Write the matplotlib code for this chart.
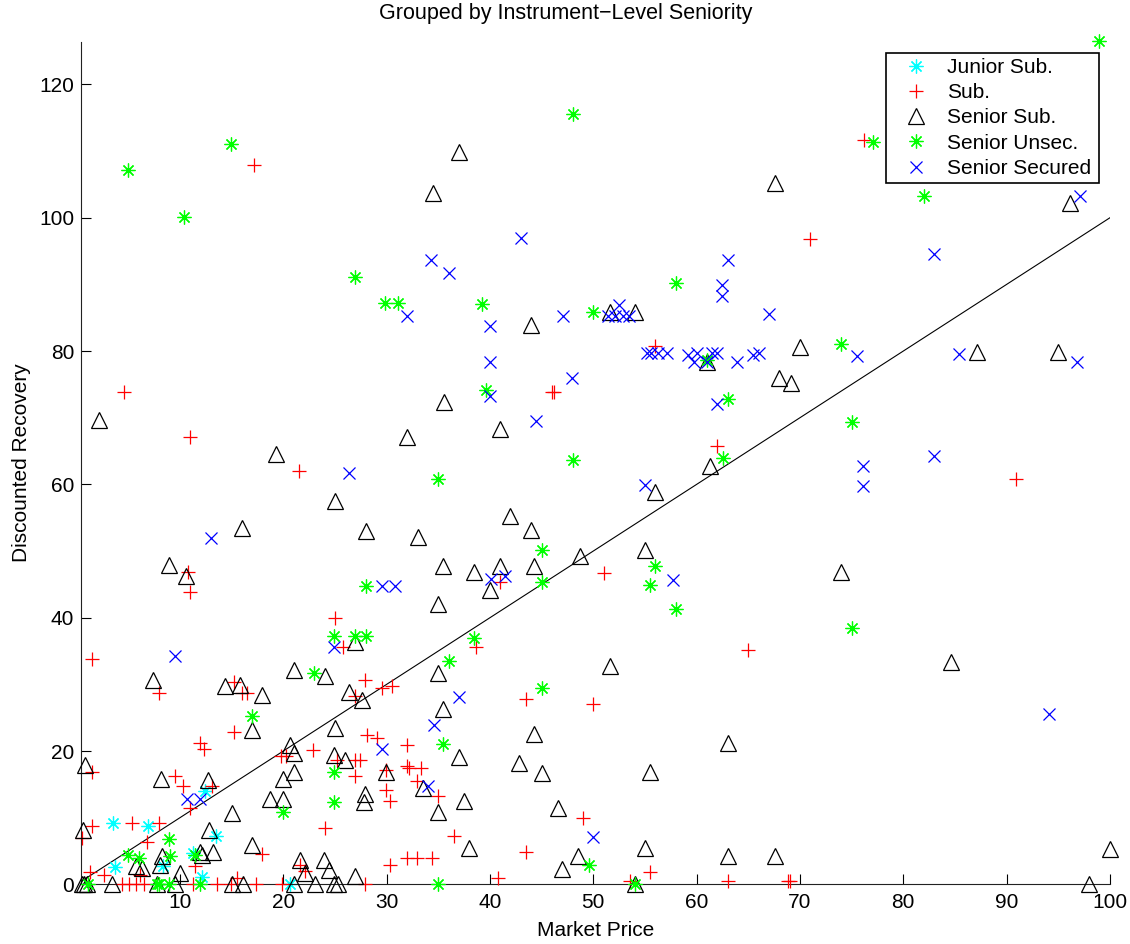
import matplotlib
matplotlib.use("Agg")
import matplotlib.pyplot as plt

plt.rcParams['font.family'] = ['Liberation Sans', 'DejaVu Sans']

# ---------------- data ----------------
junior_x = [3.56, 6.95, 12.4, 13.5, 11.3, 8.4, 3.7, 12.1, 20.7]
junior_y = [9.2, 8.7, 14.0, 7.2, 4.7, 2.7, 2.6, 1.1, 0.0]

sub_x = [17.2, 76.2, 71.0, 4.6, 11.0, 21.5, 10.8, 11.0, 56.0, 46.0, 46.2, 62.0, 51.0, 41.0,
         90.9, 38.7, 43.5, 49.97, 31.96, 32.2, 33.3, 32.9, 35.0, 49.0, 36.5, 43.5, 31.96, 32.9,
         34.4, 40.8, 55.45, 53.6, 63.0, 65.0, 68.8, 69.0,
         1.47, 25.0, 25.8, 27.9, 8.0, 15.2, 16.0, 16.5, 26.9, 29.55, 30.5, 15.2, 11.96, 12.3,
         28.1, 29.1, 19.8, 20.25, 22.9, 26.96, 27.4, 25.2, 1.47, 9.5, 10.3, 11.0, 13.1, 26.96,
         29.96, 29.96, 30.3, 31.96, 24.05, 17.9, 5.4, 8.0, 6.85, 1.47, 0.5, 11.5, 2.66, 6.15,
         1.3, 21.6, 22.1, 30.3,
         4.4, 5.1, 5.8, 6.5, 11.3, 13.6, 14.9, 15.5, 17.4, 19.9, 27.9]
sub_y = [107.9, 111.7, 96.8, 73.9, 67.1, 62.0, 46.8, 43.9, 80.8, 73.9, 73.9, 65.8, 46.7, 45.3,
         60.8, 35.6, 27.8, 27.0, 20.9, 17.5, 17.5, 15.5, 13.3, 9.9, 7.2, 4.9, 4.0, 4.0,
         4.0, 0.9, 1.8, 0.5, 0.5, 35.2, 0.5, 0.5,
         33.8, 40.0, 35.6, 30.6, 28.7, 30.3, 28.7, 28.7, 28.2, 29.4, 29.7, 22.9, 21.2, 20.3,
         22.4, 21.9, 19.3, 19.2, 20.2, 18.7, 18.7, 18.7, 16.9, 16.2, 14.7, 11.4, 14.7, 16.3,
         17.2, 14.2, 12.5, 17.7, 8.4, 4.5, 9.2, 9.2, 6.4, 8.7, 6.9, 2.7, 1.4, 1.4,
         1.9, 2.9, 2.0, 2.9,
         0.0, 0.0, 0.0, 0.0, 0.0, 0.0, 0.0, 0.9, 0.0, 0.0, 0.0]

ssub_x = [37.0, 34.5, 44.0, 51.6, 54.07, 67.6, 96.1, 2.2, 19.3, 25.0, 16.0, 28.0, 31.96, 8.98,
          10.6, 35.6, 41.0, 61.3, 56.0, 41.96, 44.0, 33.0, 55.0, 48.7, 35.5, 38.5, 41.0, 44.3,
          40.0, 35.0, 70.0, 68.0, 69.1, 87.1, 95.0, 74.0, 61.0,
          35.0, 51.6, 35.5, 44.3, 37.0, 42.8, 45.0, 55.5, 63.0, 33.5, 37.5, 35.0, 46.6, 38.0,
          48.5, 55.0, 63.0, 47.0, 54.0, 84.6, 67.6, 98.0, 100.0,
          26.96, 21.0, 24.0, 7.4, 14.4, 15.8, 17.9, 26.4, 27.6, 16.96, 25.0, 20.7, 21.0, 24.9,
          26.0, 0.82, 8.2, 12.7, 15.0, 18.7, 20.0, 20.0, 21.0, 27.9, 27.8, 29.96, 16.96, 0.66,
          12.8, 13.2, 11.96, 12.1, 5.8, 6.3, 8.25, 8.1, 10.0, 21.6, 22.1, 23.9, 24.4, 26.96,
          0.5, 0.7, 1.0, 3.4, 7.8, 9.5, 15.0, 16.1, 21.0, 23.1, 24.9, 25.3]
ssub_y = [109.9, 103.7, 83.9, 85.9, 85.9, 105.2, 102.2, 69.7, 64.5, 57.5, 53.4, 53.0, 67.1, 47.9,
          46.2, 72.3, 68.3, 62.7, 58.8, 55.3, 53.1, 52.1, 50.1, 49.2, 47.8, 46.8, 47.8, 47.8,
          44.2, 42.0, 80.6, 76.0, 75.2, 79.9, 79.9, 46.8, 78.4,
          31.7, 32.7, 26.3, 22.6, 19.1, 18.2, 16.7, 16.9, 21.2, 14.5, 12.5, 10.8, 11.4, 5.4,
          4.2, 5.4, 4.2, 2.3, 0.0, 33.4, 4.3, 0.0, 5.3,
          36.4, 32.2, 31.2, 30.7, 29.7, 29.9, 28.4, 28.9, 27.7, 23.2, 23.4, 20.9, 19.7, 19.4,
          18.7, 17.9, 15.8, 15.7, 10.75, 12.8, 12.8, 15.8, 16.8, 13.5, 12.3, 16.8, 5.9, 8.1,
          8.1, 4.9, 4.9, 4.4, 2.7, 2.4, 4.2, 2.9, 1.7, 3.7, 1.7, 3.7, 2.2, 1.2,
          0.0, 0.0, 0.0, 0.0, 0.0, 0.0, 0.0, 0.0, 0.0, 0.0, 0.0, 0.0]

sunsec_x = [4.95, 10.4, 14.96, 26.96, 29.87, 31.1, 48.0, 39.2, 49.97, 58.0, 98.9, 77.1, 82.0,
            28.0, 39.6, 63.0, 62.6, 48.0, 35.0, 45.0, 56.0, 45.0, 55.45, 61.0, 74.0, 75.0,
            38.5, 36.0, 45.0, 35.45, 49.6, 54.0, 35.0, 58.0, 75.0,
            24.96, 26.96, 28.0, 23.0, 16.96, 19.96, 24.96, 24.96, 8.98, 11.5, 5.0, 6.0, 9.05,
            1.15, 7.8, 7.95, 8.9, 11.96]
sunsec_y = [107.2, 100.1, 111.1, 91.06, 87.2, 87.2, 115.5, 87.1, 85.9, 90.2, 126.5, 111.4, 103.3,
            44.7, 74.2, 72.8, 63.9, 63.7, 60.8, 50.2, 47.7, 45.4, 44.9, 78.7, 81.0, 69.4,
            36.9, 33.5, 29.4, 21.0, 2.9, 0.0, 0.0, 41.3, 38.5,
            37.2, 37.2, 37.2, 31.7, 25.2, 10.9, 16.9, 12.3, 6.8, 4.4, 4.4, 3.9, 4.2,
            0.0, 0.0, 0.0, 0.0, 0.0]

ssec_x = [31.96, 43.0, 34.3, 36.0, 47.1, 51.4, 52.1, 52.9, 53.5, 52.5, 63.0, 62.5, 62.5, 97.1,
          83.0, 67.0, 26.35, 13.0, 29.6, 30.8, 39.96, 55.2, 55.6, 56.3, 57.1, 59.2, 60.0, 59.7,
          61.5, 62.0, 61.0, 63.9, 65.5, 66.0, 39.96, 47.97, 39.96, 62.0, 44.5, 55.0, 40.1, 41.5,
          57.7, 75.5, 85.4, 96.8, 83.0, 76.1, 76.1, 37.0, 34.6, 34.0, 49.97, 94.1, 24.96, 9.5,
          29.55, 10.7, 11.96]
ssec_y = [85.2, 96.9, 93.7, 91.7, 85.3, 85.3, 85.3, 85.3, 85.3, 86.9, 93.6, 89.9, 88.2, 103.2,
          94.6, 85.6, 61.7, 52.0, 44.8, 44.8, 83.8, 79.7, 79.7, 79.7, 79.7, 79.4, 79.7, 78.4,
          79.7, 79.7, 78.4, 78.4, 79.4, 79.7, 78.4, 76.0, 73.3, 72.0, 69.5, 59.9, 45.8, 46.2,
          45.6, 79.3, 79.6, 78.3, 64.2, 62.7, 59.7, 28.1, 23.9, 14.8, 7.1, 25.6, 35.6, 34.3,
          20.3, 12.8, 12.8]

diag_x = [0, 100]
diag_y = [0, 100]

labels = ['Junior Sub.', 'Sub.', 'Senior Sub.', 'Senior Unsec.', 'Senior Secured']
title = 'Grouped by Instrument\u2212Level Seniority'
xlabel = 'Market Price'
ylabel = 'Discounted Recovery'
xticks = [10, 20, 30, 40, 50, 60, 70, 80, 90, 100]
yticks = [0, 20, 40, 60, 80, 100, 120]

# ---------------- figure ----------------
W, H = 1130, 944
fig = plt.figure(figsize=(W / 100, H / 100), dpi=100)
ax_l, ax_r, ax_t, ax_b = 81.3, 1110.0, 41.7, 884.4
ax = fig.add_axes([ax_l / W, 1 - ax_b / H, (ax_r - ax_l) / W, (ax_b - ax_t) / H])

FS = 15
ast = (8, 2, 0)
mew = 0.9
ax.plot(diag_x, diag_y, color='black', lw=0.8, zorder=1)
common = dict(ls='none', mew=mew, clip_on=False)
ax.plot(junior_x, junior_y, marker=ast, ms=10, color='#00ffff', label=labels[0], zorder=2, **common)
ax.plot(sub_x, sub_y, marker='+', ms=10, color='#ff0000', label=labels[1], zorder=3, **common)
ax.plot(ssub_x, ssub_y, marker='^', ms=11.5, mfc='none', color='black', label=labels[2], zorder=4, **common)
ax.plot(sunsec_x, sunsec_y, marker=ast, ms=10, color='#00ff00', label=labels[3], zorder=5, **common)
ax.plot(ssec_x, ssec_y, marker='x', ms=8.5, color='#0000ff', label=labels[4], zorder=6, **common)

ax.set_xlim(0.46, 100)
ax.set_ylim(0, 126.4)
ax.set_xticks(xticks)
ax.set_yticks(yticks)
ax.tick_params(direction='in', length=7, width=0.8, labelsize=FS, colors='black')
ax.tick_params(axis='x', pad=6)
ax.tick_params(axis='y', pad=5)
for s in ['top', 'right']:
    ax.spines[s].set_visible(False)
for s in ['left', 'bottom']:
    ax.spines[s].set_linewidth(0.8)
    ax.spines[s].set_color('#222222')

ax.set_xlabel(xlabel, fontsize=FS, va='center')
ax.xaxis.set_label_coords(0.5, (ax_b - 931) / (ax_b - ax_t))
ax.set_ylabel(ylabel, fontsize=FS, va='center')
ax.yaxis.set_label_coords((22 - ax_l) / (ax_r - ax_l), 0.5)
fig.text(565.5 / W, 1 - 14 / H, title, fontsize=15.5, ha='center', va='center')

leg = ax.legend(loc='upper left', bbox_to_anchor=(886 / W, 1 - 181 / H, (1099 - 886) / W, (181 - 52.7) / H),
                bbox_transform=fig.transFigure, mode='expand', fontsize=FS, frameon=True,
                fancybox=False, edgecolor='black', framealpha=1, borderpad=0.25,
                handlelength=2.4, handletextpad=0.3, labelspacing=0.3, borderaxespad=0)
leg.get_frame().set_linewidth(1.2)

fig.savefig('out.png', dpi=100)
